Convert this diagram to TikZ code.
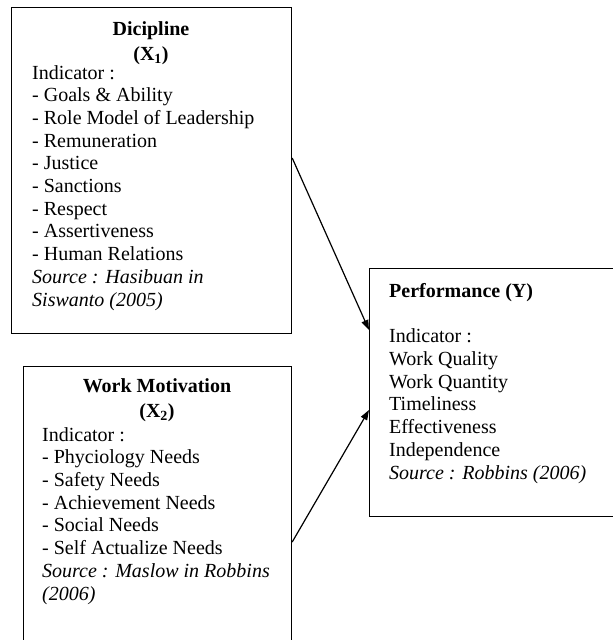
\documentclass[tikz,border=0pt]{standalone}
\usepackage{fontspec}
\setmainfont{Liberation Serif}
\usetikzlibrary{arrows.meta,positioning}

\tikzset{
  frame/.style={draw, line width=1.2pt, inner sep=0pt, anchor=north west},
  title/.style={font=\fontsize{20}{22.7}\selectfont\bfseries, align=center, anchor=base, inner sep=0pt},
  body/.style={font=\fontsize{20}{22.7}\selectfont, align=left, anchor=base west, inner sep=0pt},
  conn/.style={line width=1.2pt, -{Triangle[length=10pt,width=7pt]}}
}

\begin{document}
\begin{tikzpicture}[x=1pt,y=-1pt]
    \useasboundingbox (0,0) rectangle (613,640);

    % Dicipline (placed by last baseline)
    \node[frame, minimum width=280pt, minimum height=326pt] (fX1) at (11,7) {};
    \node[title] (tX1) at (151,60) {Dicipline\\[2pt](X\textsubscript{1})};
    \node[body] (bX1) at (32,306) {Indicator :\\
        - Goals \& Ability\\
        - Role Model of Leadership\\
        - Remuneration\\
        - Justice\\
        - Sanctions\\
        - Respect\\
        - Assertiveness\\
        - Human Relations\\
        \textit{Source : Hasibuan in}\\
        \textit{Siswanto (2005)}};

    % Work Motivation
    \node[frame, minimum width=268pt, minimum height=300pt] (fX2) at (23,366) {};
    \node[title] (tX2) at (157,417) {Work Motivation\\[2pt](X\textsubscript{2})};
    \node[body] (bX2) at (42,600) {Indicator :\\
        - Phyciology Needs\\
        - Safety Needs\\
        - Achievement Needs\\
        - Social Needs\\
        - Self Actualize Needs\\
        \textit{Source : Maslow in Robbins}\\
        \textit{(2006)}};

    % Performance
    \node[frame, minimum width=250pt, minimum height=248pt] (fY) at (369,268) {};
    \node[title, anchor=base west] (tY) at (389,297) {Performance (Y)};
    \node[body] (bY) at (389,479) {Indicator :\\
        Work Quality\\
        Work Quantity\\
        Timeliness\\
        Effectiveness\\
        Independence\\
        \textit{Source : Robbins (2006)}};

    \draw[conn] ([yshift=-151pt]fX1.north east) -- ([yshift=-62pt]fY.north west);
    \draw[conn] ([yshift=-176pt]fX2.north east) -- ([yshift=-142pt]fY.north west);
\end{tikzpicture}
\end{document}
